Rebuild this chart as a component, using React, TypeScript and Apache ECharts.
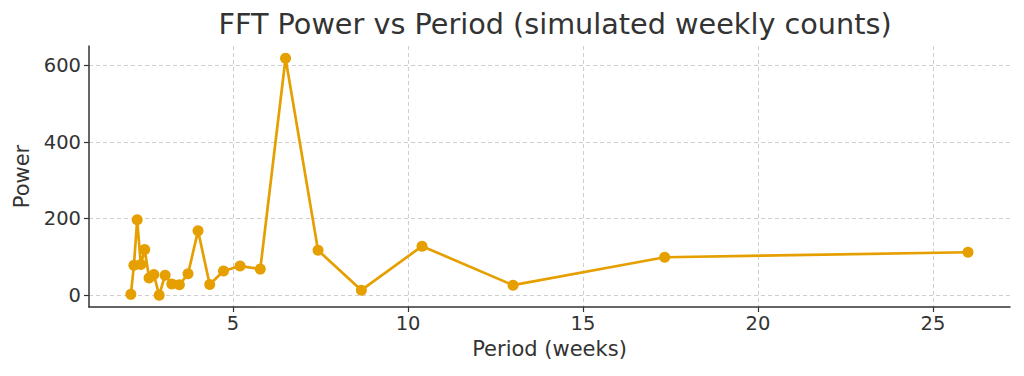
import React, { useEffect, useRef } from "react";
import * as echarts from "echarts";

const periods = [26.0, 17.333, 13.0, 10.4, 8.667, 7.429, 6.5, 5.778, 5.2, 4.727, 4.333, 4.0, 3.714, 3.467, 3.25, 3.059, 2.889, 2.737, 2.6, 2.476, 2.364, 2.261, 2.167, 2.08];
const power = [112, 99, 26, 128, 13, 117, 619, 68, 76, 63, 28, 168, 56, 27, 29, 52, 0, 54, 45, 119, 80, 197, 78, 2];
const xTicks = [5, 10, 15, 20, 25];
const yTicks = [0, 200, 400, 600];

const FONT = "DejaVu Sans";
const TXT = "#333333";

export default function App() {
  const ref = useRef<HTMLDivElement>(null);
  useEffect(() => {
    document.body.style.margin = "0";
    const chart = echarts.init(ref.current!, null, { renderer: "svg" });
    const data = periods.map((p, i) => [p, power[i]]);
    chart.setOption({
      animation: false,
      backgroundColor: "#ffffff",
      title: {
        text: "FFT Power vs Period (simulated weekly counts)",
        left: 550,
        textAlign: "center",
        top: 4,
        textStyle: { fontFamily: FONT, fontSize: 28.7, fontWeight: "normal", color: TXT },
      },
      grid: { left: 89, right: 14, top: 46, bottom: 69 },
      xAxis: {
        type: "value",
        min: 0.884,
        max: 27.2,
        name: "Period (weeks)",
        nameLocation: "middle",
        nameGap: 31,
        nameTextStyle: { fontFamily: FONT, fontSize: 21, color: TXT },
        axisLine: { show: true, onZero: false, lineStyle: { color: TXT, width: 1.5 } },
        axisTick: { show: true, length: 5, customValues: xTicks, lineStyle: { color: TXT, width: 1.2 } },
        axisLabel: { customValues: xTicks, fontFamily: FONT, fontSize: 19.5, color: TXT, margin: 6 },
        splitLine: { show: true, lineStyle: { color: "#cfcfcf", type: [4, 3], width: 1 } },
      },
      yAxis: {
        type: "value",
        min: -31,
        max: 651,
        name: "Power",
        nameLocation: "middle",
        nameGap: 55,
        nameTextStyle: { fontFamily: FONT, fontSize: 21, color: TXT },
        axisLine: { show: true, onZero: false, lineStyle: { color: TXT, width: 1.5 } },
        axisTick: { show: true, length: 5, customValues: yTicks, lineStyle: { color: TXT, width: 1.2 } },
        axisLabel: { customValues: yTicks, fontFamily: FONT, fontSize: 19.5, color: TXT, margin: 8 },
        splitLine: { show: true, lineStyle: { color: "#cfcfcf", type: [4, 3], width: 1 } },
      },
      series: [
        {
          type: "line",
          data,
          symbol: "circle",
          symbolSize: 11,
          showAllSymbol: true,
          lineStyle: { color: "#E69F00", width: 2.7 },
          itemStyle: { color: "#E69F00" },
          z: 5,
        },
      ],
    });
    return () => chart.dispose();
  }, []);
  return <div ref={ref} style={{ width: 1024, height: 376 }} />;
}
